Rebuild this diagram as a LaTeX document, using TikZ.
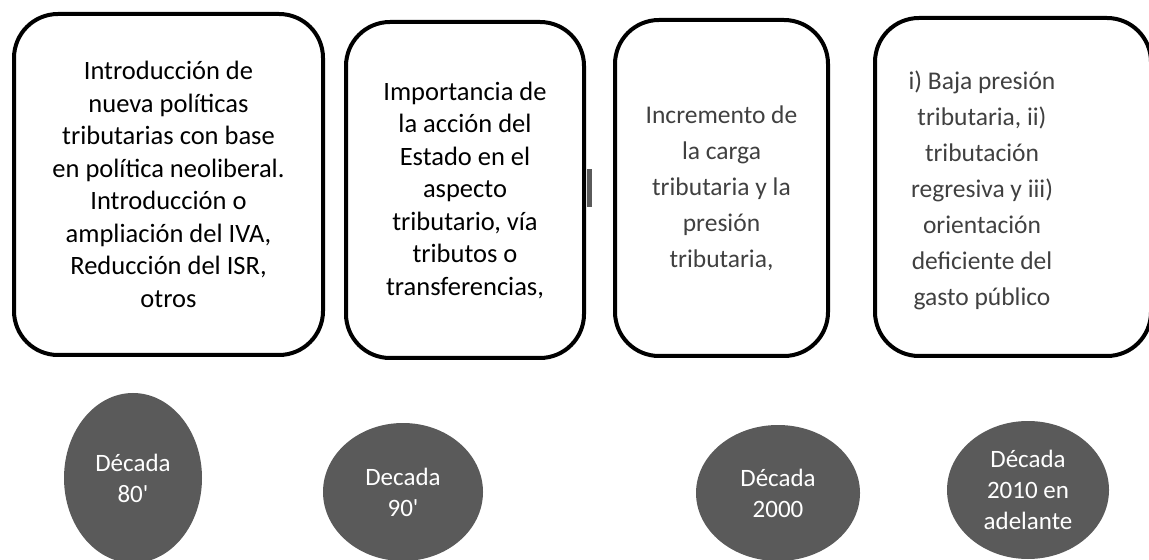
\documentclass[tikz,border=0pt]{standalone}
\usepackage{fontspec}
\setmainfont{Carlito}
\usetikzlibrary{shapes.geometric}
\definecolor{circgray}{HTML}{5A5A5A}
\definecolor{textgray}{HTML}{404040}

\begin{document}
\begin{tikzpicture}[x=0.5pt, y=-0.5pt,
	etapa/.style={draw, line width=2pt, rounded corners=22pt, align=center,
		inner sep=0pt, font=\fontsize{13.25}{16.25}\selectfont},
	etapagris/.style={etapa, text=textgray, font=\fontsize{12.75}{18}\selectfont},
	decada/.style={ellipse, fill=circgray, text=white, align=center,
		inner sep=0pt, font=\fontsize{12.5}{15.5}\selectfont}]
	\useasboundingbox (0,0) rectangle (1149,560);
	% recuadros
	\node[etapa, minimum width=154.5pt, minimum height=170.5pt] (b1) at (168.5,184.5)
		{Introducción de\\ nueva políticas\\ tributarias con base\\ en política neoliberal.\\
		 Introducción o\\ ampliación del IVA,\\ Reducción del ISR,\\ otros};
	\node[etapa, minimum width=119pt, minimum height=168pt] (b2) at (465,190)
		{Importancia de\\ la acción del\\ Estado en el\\ aspecto\\ tributario, vía\\
		 tributos o\\ transferencias,};
	\node[etapagris, minimum width=106.5pt, minimum height=168pt] (b3) at (721.5,188)
		{Incremento de\\ la carga\\ tributaria y la\\ presión\\ tributaria,};
	\node[etapagris, minimum width=138pt, minimum height=169pt] (b4) at (1013,187) {};
	\node[text=textgray, align=center, inner sep=0pt,
		font=\fontsize{12.75}{18}\selectfont] (t4) at (982,190)
		{i) Baja presión\\ tributaria, ii)\\ tributación\\ regresiva y iii)\\
		 orientación\\ deficiente del\\ gasto público};
	\fill[circgray] (587,169) rectangle (592,207);
	% decadas
	\node[decada, minimum width=69pt, minimum height=85pt] (d1) at (133,478)
		{Década\\ 80\textquotesingle};
	\node[decada, minimum width=80pt, minimum height=69pt] (d2) at (403,492)
		{Decada\\ 90\textquotesingle};
	\node[decada, minimum width=82pt, minimum height=68pt] (d3) at (778,493) {Década\\ 2000};
	\node[decada, minimum width=81pt, minimum height=69pt] (d4) at (1028,490)
		{Década\\ 2010 en\\ adelante};
\end{tikzpicture}
\end{document}
